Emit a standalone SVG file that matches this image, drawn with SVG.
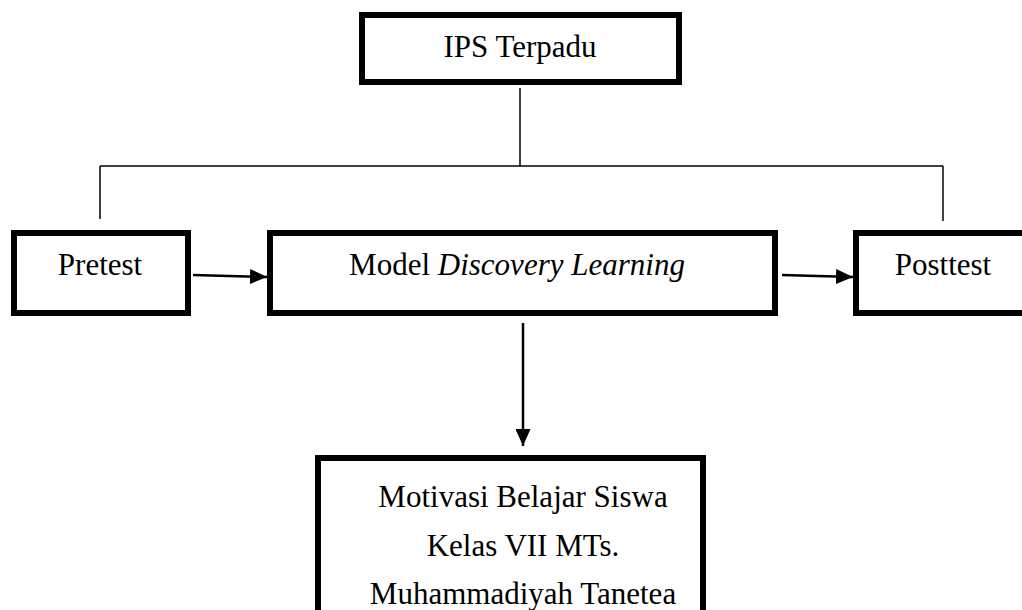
<svg xmlns="http://www.w3.org/2000/svg" width="1022" height="610" viewBox="0 0 1022 610">
<style>
.box{fill:#fff;stroke:#000;stroke-width:6}
.t{font-family:"Liberation Serif","Times New Roman",serif;font-size:31px;fill:#000;text-anchor:middle}
.ln{fill:none;stroke:#000;stroke-width:1.5}
.ar{fill:none;stroke:#000;stroke-width:2.5}
</style>
<defs>
<marker id="ah" markerWidth="8" markerHeight="8" refX="7" refY="4" orient="auto" markerUnits="userSpaceOnUse" viewBox="0 0 8 8">
<path d="M0,0 L8,4 L0,8 Z" fill="#000"/>
</marker>
<marker id="ah2" markerWidth="17" markerHeight="15" refX="17" refY="7.5" orient="auto" markerUnits="userSpaceOnUse" viewBox="0 0 17 15">
<path d="M0,0 L17,7.5 L0,15 Z" fill="#000"/>
</marker>
</defs>
<rect width="1022" height="610" fill="#fff"/>
<g id="connectors">
<path class="ln" d="M520,88 V166"/>
<path class="ln" d="M100,166 H943"/>
<path class="ln" d="M100,166 V219"/>
<path class="ln" d="M943,166 V221"/>
<path class="ar" d="M193,275 L267,277" marker-end="url(#ah2)"/>
<path class="ar" d="M782,275 L853,277" marker-end="url(#ah2)"/>
<path class="ar" d="M523,323 V446" marker-end="url(#ah2)"/>
</g>
<g id="ips">
<rect class="box" x="362" y="15" width="317" height="67"/>
<text class="t" x="520" y="57">IPS Terpadu</text>
</g>
<g id="pretest">
<rect class="box" x="14" y="233" width="174" height="80"/>
<text class="t" x="100" y="275">Pretest</text>
</g>
<g id="model">
<rect class="box" x="270" y="233" width="505" height="80"/>
<text class="t" x="517" y="275">Model <tspan font-style="italic">Discovery Learning</tspan></text>
</g>
<g id="posttest">
<rect class="box" x="856" y="233" width="200" height="80"/>
<text class="t" x="943" y="275">Posttest</text>
</g>
<g id="motivasi">
<rect class="box" x="318" y="458" width="385" height="200"/>
<text class="t" x="523" y="507">Motivasi Belajar Siswa</text>
<text class="t" x="523" y="556">Kelas VII MTs.</text>
<text class="t" x="523" y="604">Muhammadiyah Tanetea</text>
</g>
</svg>
